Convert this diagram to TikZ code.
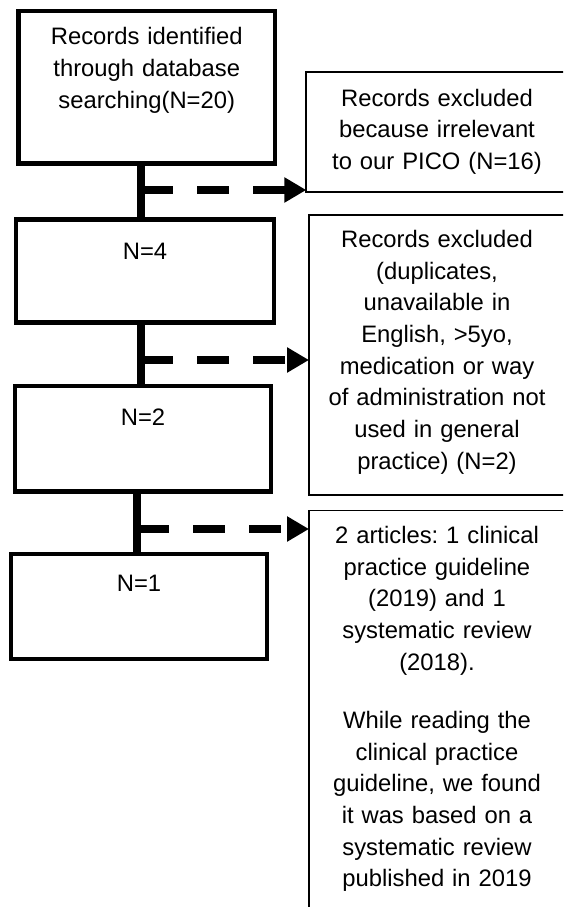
\documentclass[tikz,border=0pt]{standalone}
\usepackage{fontspec}
\setmainfont{Liberation Sans}
\usetikzlibrary{arrows.meta}
\frenchspacing
\begin{document}
\begin{tikzpicture}[x=1pt,y=-1pt,
  stepbox/.style={draw, line width=4.5pt, outer sep=0pt, inner sep=0pt},
  notebox/.style={draw, line width=1.8pt, outer sep=0pt, inner sep=0pt},
  boxtext/.style={text width=262pt, align=center, inner sep=0pt, anchor=base,
    font=\fontsize{23.8}{31.7}\selectfont},
  trunk/.style={line width=8pt},
  branch/.style={line width=8pt, dash pattern=on 32pt off 24pt,
    -{Triangle[length=22pt,width=24pt]}},
]
\useasboundingbox (0,0) rectangle (563,907);
\fill[white] (0,0) rectangle (563,907);
\clip (0,0) rectangle (563,907);

% main flow boxes
\node[stepbox, minimum width=256.5pt, minimum height=152.5pt] (b1) at (146.75,87.25) {};
\node[stepbox, minimum width=258pt,   minimum height=103pt]   (b2) at (145,271) {};
\node[stepbox, minimum width=256pt,   minimum height=105.5pt] (b3) at (143,438.75) {};
\node[stepbox, minimum width=256pt,   minimum height=105pt]   (b4) at (139,606.5) {};

\node[boxtext] (t1) at ([yshift=-34pt]b1.north) {Records identified\\through database\\searching(N=20)};
\node[boxtext] (t2) at ([yshift=-39.8pt]b2.north) {N=4};
\node[boxtext] (t3) at ([yshift=-39pt]b3.north) {N=2};
\node[boxtext] (t4) at ([yshift=-37.7pt]b4.north) {N=1};

% side boxes for excluded records and outcome
\node[notebox, minimum width=261.4pt, minimum height=120pt]   (rA) at (437,132) {};
\node[notebox, minimum width=256pt,   minimum height=279.7pt] (rB) at (437,354.85) {};
\node[notebox, minimum width=256pt,   minimum height=430pt]   (rC) at (437,725.5) {};

\node[boxtext] (tA) at ([yshift=-34pt]rA.north) {Records excluded\\because irrelevant\\to our PICO (N=16)};
\node[boxtext] (tB) at ([yshift=-32.3pt]rB.north) {Records excluded\\(duplicates,\\unavailable in\\English, >5yo,\\medication or way\\of administration not\\used in general\\practice) (N=2)};
\node[boxtext] (tC) at ([yshift=-32.8pt]rC.north) {2 articles: 1 clinical\\practice guideline\\(2019) and 1\\systematic review\\(2018).\\[26.6pt]While reading the\\clinical practice\\guideline, we found\\it was based on a\\systematic review\\published in 2019};

% branch points on the trunk
\coordinate (j1) at (141,190);
\coordinate (j2) at (141,360);
\coordinate (j3) at (137,529);

\draw[trunk] (j1 |- b1.south) -- (j1 |- b2.north);
\draw[trunk] (j2 |- b2.south) -- (j2 |- b3.north);
\draw[trunk] (j3 |- b3.south) -- (j3 |- b4.north);

\draw[branch] (j1) -- (j1 -| rA.west);
\draw[branch] (j2) -- (j2 -| rB.west);
\draw[branch] (j3) -- (j3 -| rC.west);
\end{tikzpicture}
\end{document}
